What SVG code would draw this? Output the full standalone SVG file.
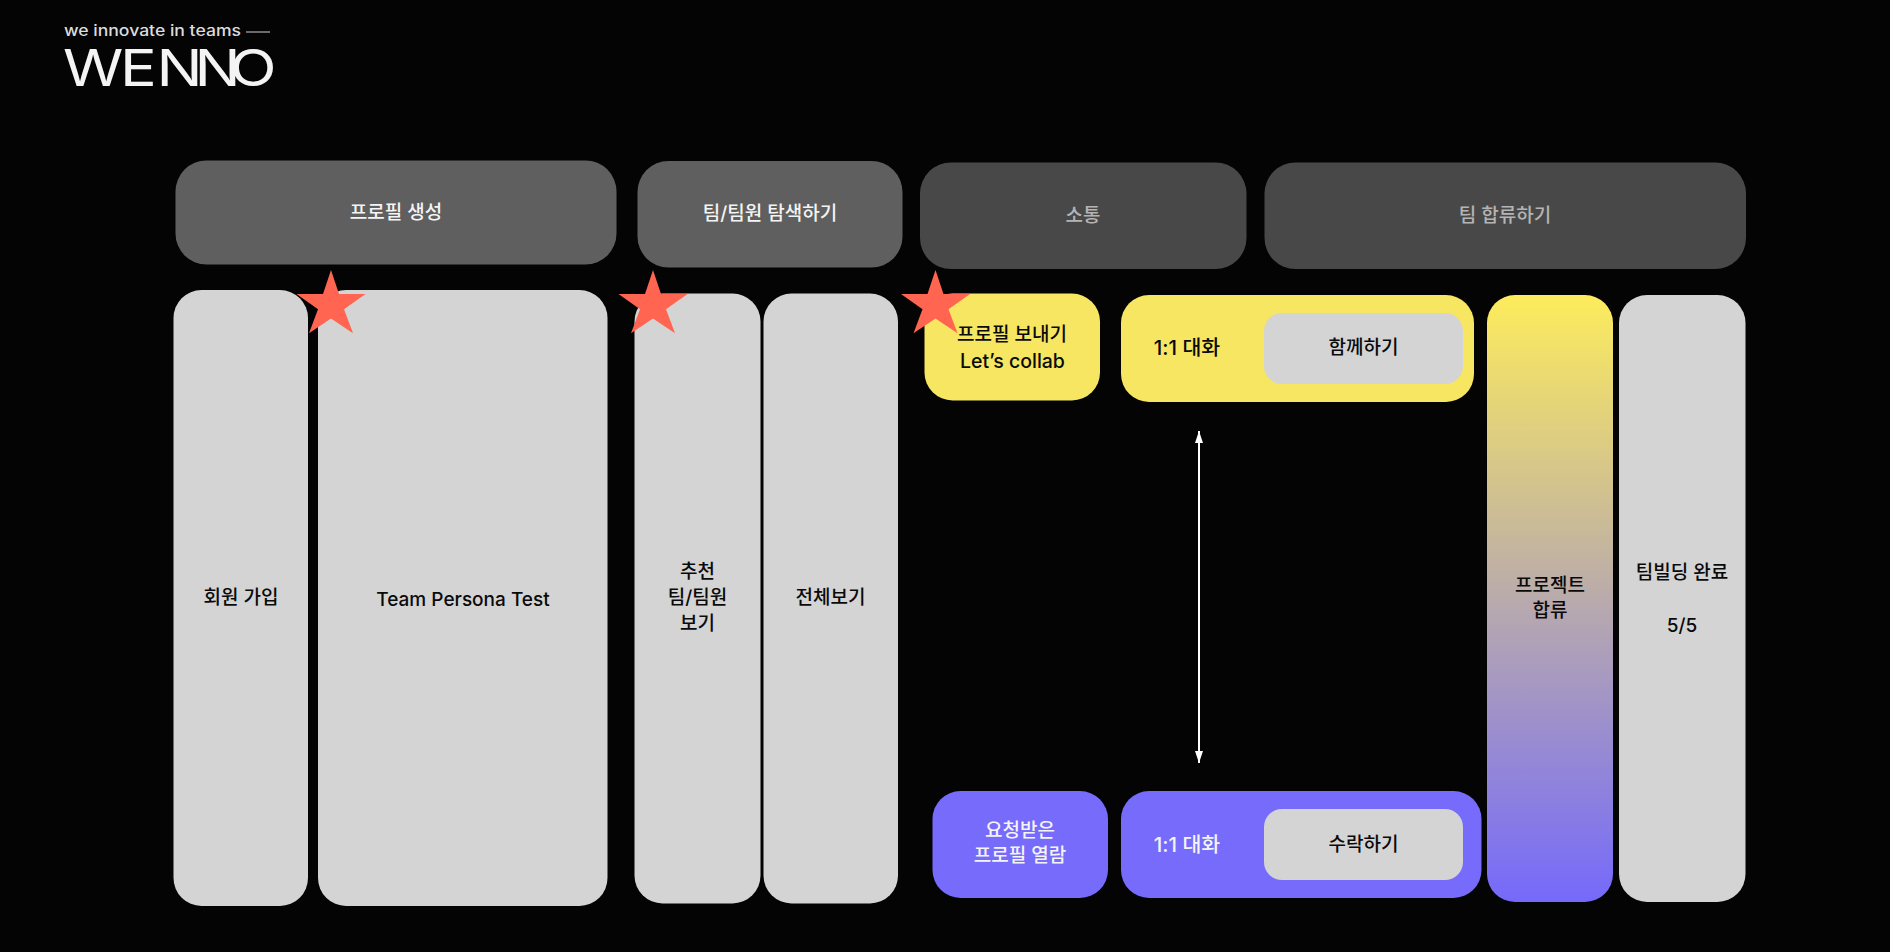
<svg xmlns="http://www.w3.org/2000/svg" width="1890" height="952" viewBox="0 0 1890 952">
<style>
text{font-family:Inter,"Noto Sans CJK KR","Noto Sans",sans-serif;font-size:19px;text-anchor:middle;fill:#0a0a0a;font-weight:500}
.h1{fill:#5f5f5f}.h2{fill:#484848}
.g{fill:#d4d4d4}.y{fill:#f6e661}.p{fill:#766bfb}
.w{fill:#f4f4f4}.m{fill:#b4b4b4}
.star{fill:#ff6550}
.big{font-size:20.500px}
</style>
<defs>
<linearGradient id="grad" x1="0" y1="0" x2="0" y2="1"><stop offset="0" stop-color="#fdec5c"/><stop offset="1" stop-color="#7569fb"/></linearGradient>
<marker id="ah" viewBox="0 0 12 8" refX="12" refY="4" markerWidth="12" markerHeight="8" markerUnits="userSpaceOnUse" orient="auto-start-reverse"><path d="M0 0L12 4L0 8Z" fill="#fff"/></marker>
<polygon id="st" points="0,-35 8,-11 34.500,-11 13,4.300 22,28.300 0,13.400 -22,28.300 -13,4.300 -34.500,-11 -8,-11"/>
</defs>
<rect width="1890" height="952" fill="#040404"/>
<g id="logo">
<text x="64" y="36" style="text-anchor:start;font-weight:500;font-size:15px;fill:#dcdcdc" textLength="177" lengthAdjust="spacingAndGlyphs">we innovate in teams</text>
<text transform="scale(1.2 1)" x="52.500 100 130.500 162 191.500" y="86" style="text-anchor:start;font-weight:400;font-size:51px" class="w">WENNO</text>
<rect x="246" y="31.500" width="24" height="1" fill="#cfcfcf"/>
</g>
<g id="h-profile"><rect class="h1" x="175.500" y="160.500" width="441" height="104" rx="31"/><text class="w" x="396" y="219">프로필 생성</text></g>
<g id="h-explore"><rect class="h1" x="637.500" y="161" width="265" height="106.500" rx="31"/><text class="w" x="770" y="220">팀/팀원 탐색하기</text></g>
<g id="h-comm"><rect class="h2" x="920" y="162.500" width="326.500" height="106.500" rx="31"/><text class="m" x="1083" y="222">소통</text></g>
<g id="h-join"><rect class="h2" x="1264.500" y="162.500" width="481.500" height="106.500" rx="31"/><text class="m" x="1505" y="222">팀 합류하기</text></g>
<g id="n-signup"><rect class="g" x="173.500" y="290" width="134.500" height="616" rx="28"/><text x="241" y="604">회원 가입</text></g>
<g id="n-persona"><rect class="g" x="318" y="290" width="289.500" height="616" rx="28"/><text x="463" y="606">Team Persona Test</text></g>
<g id="n-recommend"><rect class="g" x="634.500" y="293.500" width="126" height="610" rx="28"/><text x="697.500" y="578">추천</text><text x="697.500" y="604">팀/팀원</text><text x="697.500" y="630">보기</text></g>
<g id="n-all"><rect class="g" x="763.500" y="293.500" width="134.500" height="610" rx="28"/><text x="830.500" y="604">전체보기</text></g>
<g id="n-send"><rect class="y" x="924.500" y="293.500" width="175.500" height="107" rx="28"/><text x="1012" y="341">프로필 보내기</text><text x="1012.500" y="368" style="font-size:19.500px">Let’s collab</text></g>
<g id="n-chat-y"><rect class="y" x="1121" y="295" width="353" height="107" rx="28"/><text class="big" x="1187" y="355">1:1 대화</text></g>
<g id="n-together"><rect class="g" x="1264" y="313" width="199" height="71" rx="18"/><text x="1363.500" y="354">함께하기</text></g>
<g id="n-open"><rect class="p" x="932.500" y="791" width="175.500" height="107" rx="28"/><text class="w" x="1020" y="837">요청받은</text><text class="w" x="1020" y="862">프로필 열람</text></g>
<g id="n-chat-p"><rect class="p" x="1121" y="791" width="360.500" height="107" rx="28"/><text class="w big" x="1187" y="852">1:1 대화</text></g>
<g id="n-accept"><rect class="g" x="1264" y="809" width="199" height="71" rx="18"/><text x="1363.500" y="851">수락하기</text></g>
<g id="n-project"><rect fill="url(#grad)" x="1487" y="295" width="126" height="607" rx="28"/><text x="1550" y="592">프로젝트</text><text x="1550" y="617">합류</text></g>
<g id="n-done"><rect class="g" x="1619" y="295" width="126.500" height="607" rx="28"/><text x="1682" y="579">팀빌딩 완료</text><text x="1682" y="632">5/5</text></g>
<g id="connectors"><line x1="1199" y1="431" x2="1199" y2="763" stroke="#fff" stroke-width="2" marker-start="url(#ah)" marker-end="url(#ah)"/></g>
<g id="stars" class="star"><use href="#st" x="331" y="305"/><use href="#st" x="653" y="305"/><use href="#st" x="935.500" y="305"/></g>
</svg>
